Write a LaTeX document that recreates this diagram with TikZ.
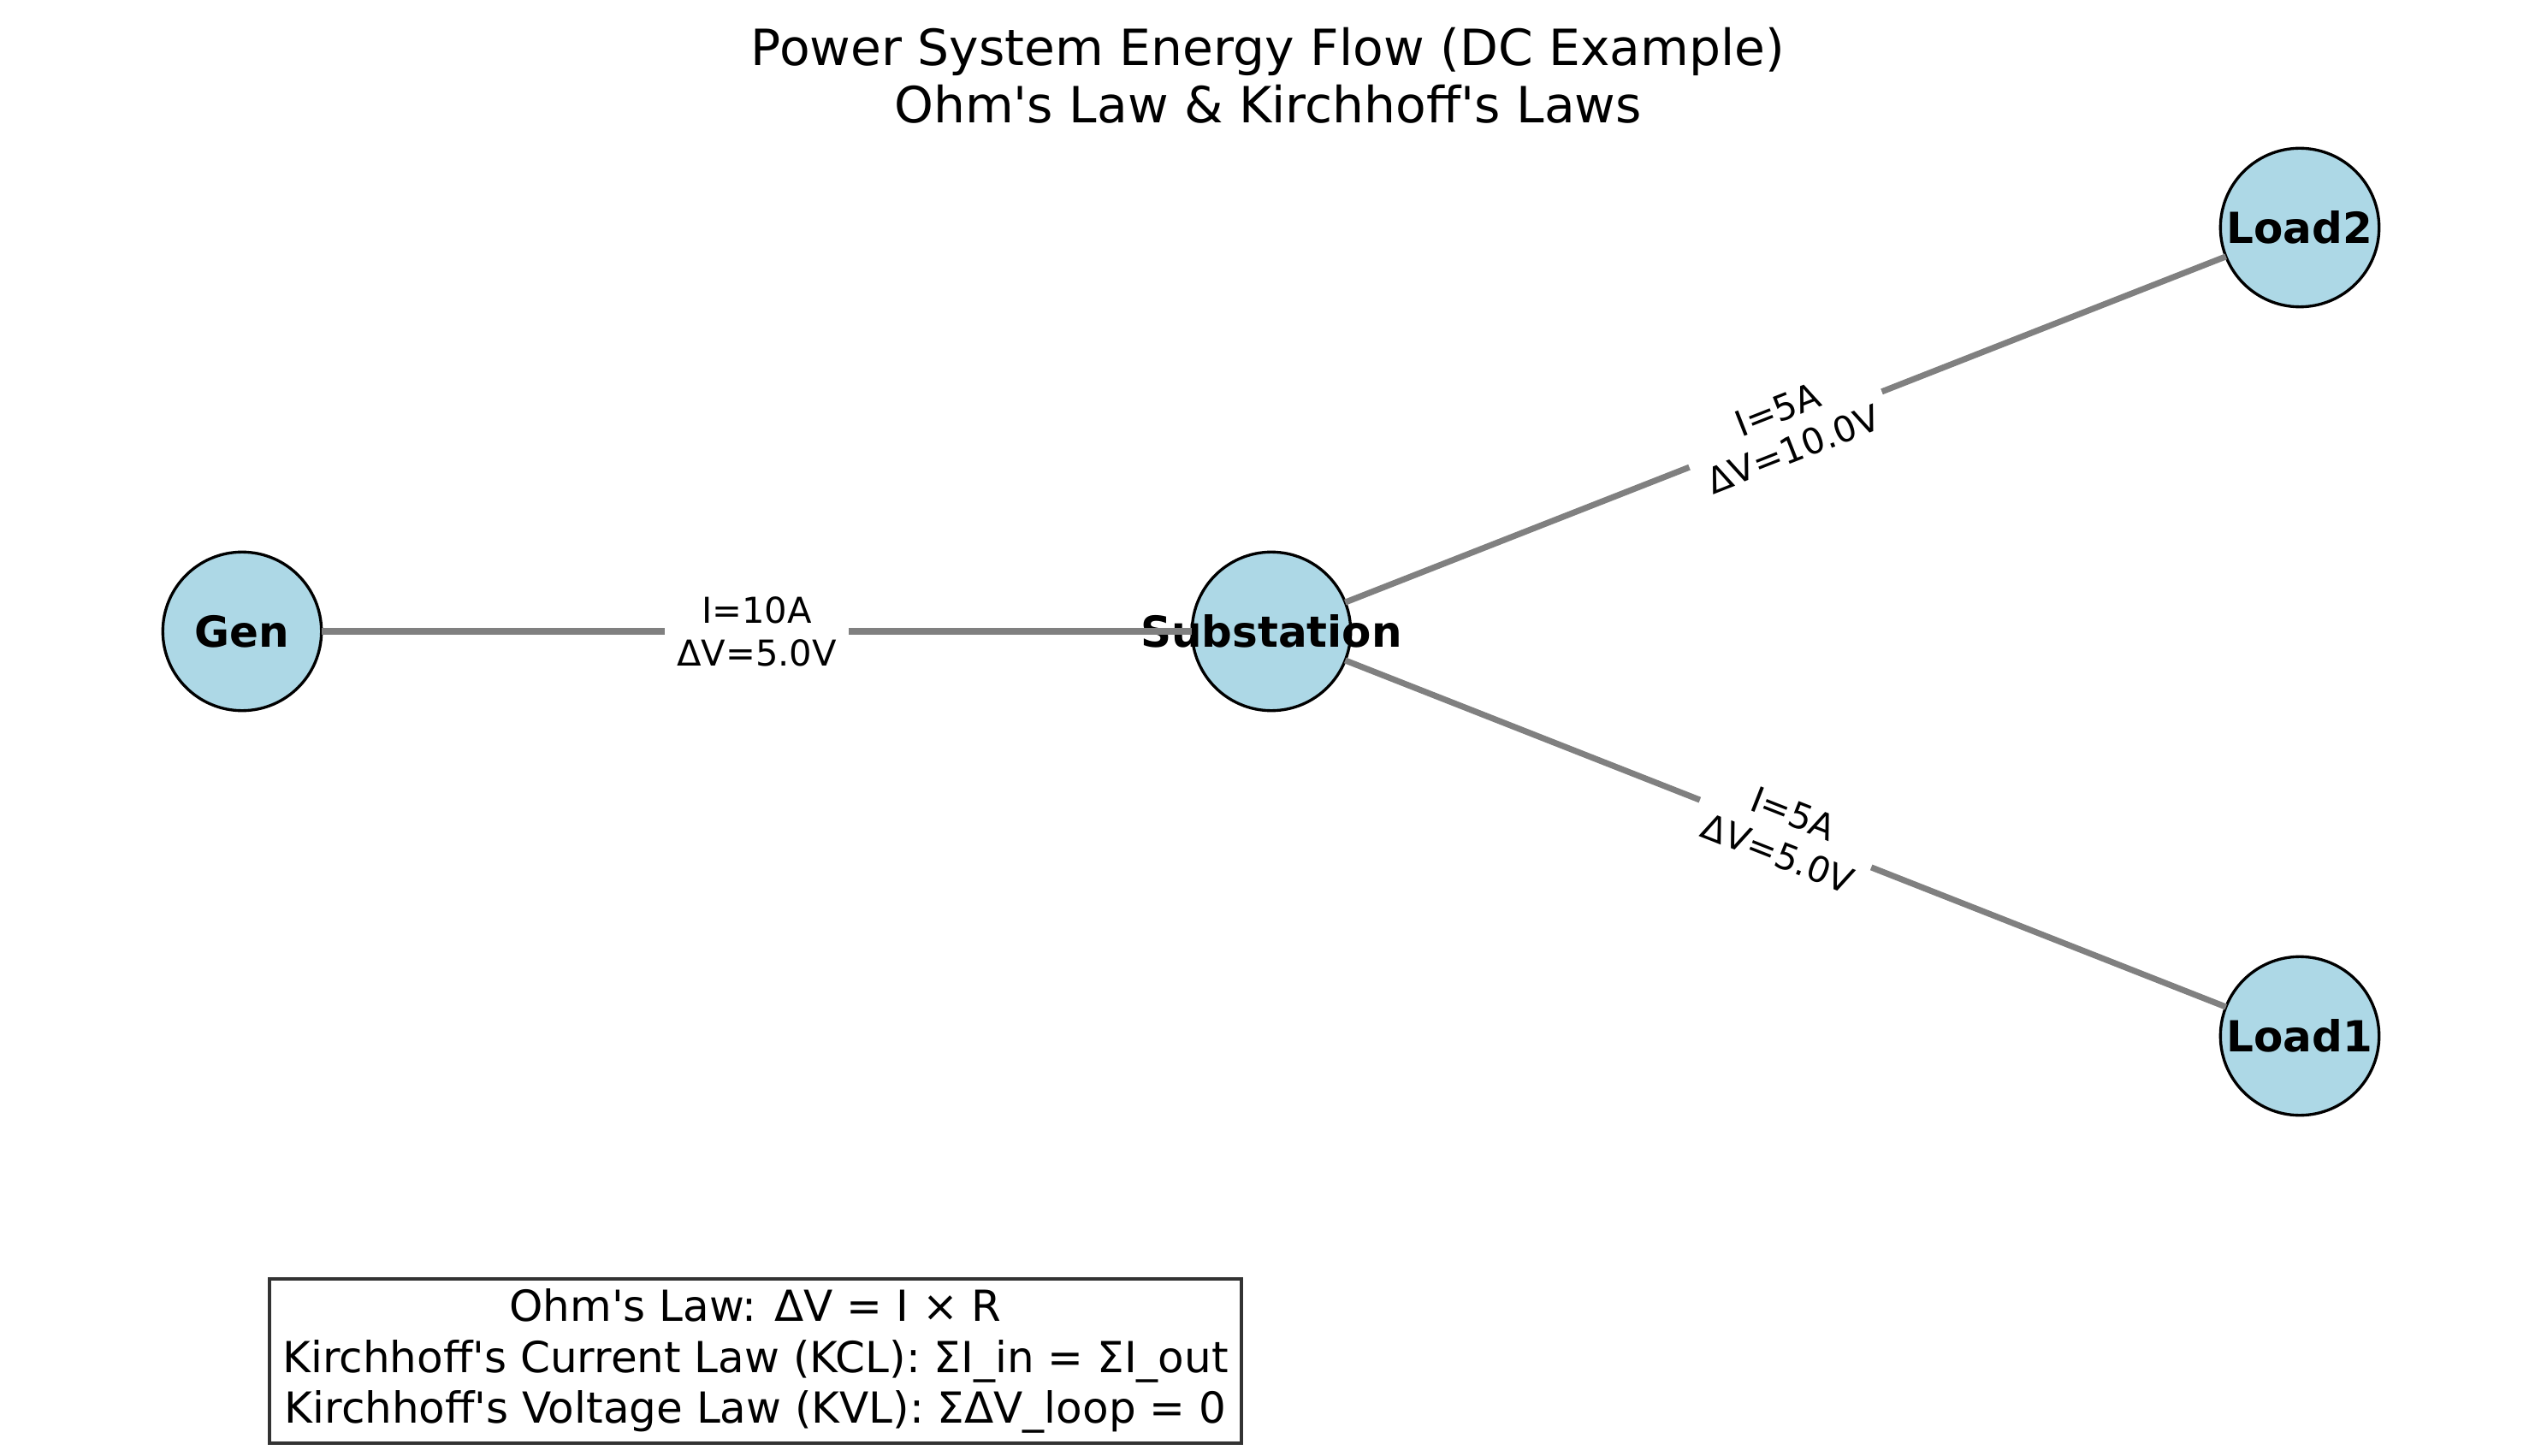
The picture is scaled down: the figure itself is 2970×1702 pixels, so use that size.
\documentclass[tikz,border=0pt]{standalone}
\usepackage{fontspec}
\setmainfont{DejaVu Sans}[Ligatures=TeXOff]
\definecolor{nodeblue}{RGB}{173,216,230}
\definecolor{edgegray}{RGB}{128,128,128}
\definecolor{boxedge}{RGB}{51,51,51}
\begin{document}
\begin{tikzpicture}[x=0.24pt,y=-0.24pt,
  bus/.style={circle,draw=black,line width=0.8pt,fill=nodeblue,minimum size=44.5pt,
    inner sep=0pt,outer sep=0pt,font=\fontsize{12}{14.4}\selectfont\bfseries},
  wire/.style={draw=edgegray,line width=1.7pt},
  elabel/.style={fill=white,sloped,align=center,inner xsep=3.4pt,inner ysep=2pt,
    font=\fontsize{10}{12}\selectfont},
  legendbox/.style={draw=boxedge,line width=0.8pt,fill=white,minimum width=272.6pt,
    minimum height=46.1pt,align=center,inner sep=0pt,font=\fontsize{12}{14.23}\selectfont}
  ]
\useasboundingbox (0,0) rectangle (2970,1702);
\node[anchor=north,align=center,inner sep=0pt,font=\fontsize{14}{16.25}\selectfont] (title) at (1482,31)
  {Power System Energy Flow (DC Example)\\Ohm's Law \& Kirchhoff's Laws};
\node[bus] (gen) at (283,738) {\makebox[0pt]{Gen}};
\node[bus] (sub) at (1486,738) {\makebox[0pt]{Substation}};
\node[bus] (load2) at (2688,266) {\makebox[0pt]{Load2}};
\node[bus] (load1) at (2688,1211) {\makebox[0pt]{Load1}};
\draw[wire] (gen) -- node[elabel] (lab1) {I=10A\\ΔV=5.0V} (sub);
\draw[wire] (sub) -- node[elabel] (lab2) {I=5A\\ΔV=10.0V} (load2);
\draw[wire] (sub) -- node[elabel] (lab3) {I=5A\\ΔV=5.0V} (load1);
\node[legendbox] (legend) at (883,1591)
  {Ohm's Law: ΔV = I × R\\Kirchhoff's Current Law (KCL): ΣI\_in = ΣI\_out\\Kirchhoff's Voltage Law (KVL): ΣΔV\_loop = 0};
\end{tikzpicture}
\end{document}
